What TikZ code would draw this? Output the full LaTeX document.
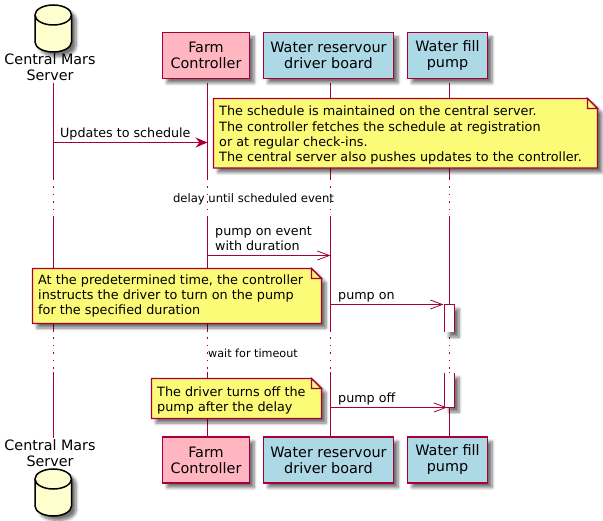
\documentclass[tikz,border=0pt]{standalone}
\usepackage{fontspec}
\setmainfont{DejaVu Sans}
\usetikzlibrary{arrows.meta,shadows.blur}
\definecolor{plum}{HTML}{A80036}
\definecolor{notey}{HTML}{FBFB77}
\definecolor{dbfill}{HTML}{FEFECE}
\definecolor{pinkbox}{HTML}{FFB6C1}
\definecolor{bluebox}{HTML}{ADD8E6}
\tikzset{
  softshadow/.style={blur shadow={shadow xshift=4.5pt,shadow yshift=-4.5pt,shadow blur steps=6,shadow blur radius=3pt,shadow opacity=55}},
  lifeline/.style={draw=plum,line width=1.1pt},
  lifedots/.style={draw=plum,line width=1.1pt,dash pattern=on 1.5pt off 6pt},
  partbox/.style={draw=plum,line width=1.5pt,minimum height=46pt,inner sep=0pt,align=center,softshadow,
     font=\fontsize{14.4}{16}\selectfont},
  actortext/.style={inner sep=0pt,align=center,font=\fontsize{14.3}{16}\selectfont},
  noteshape/.style={draw=plum,fill=notey,line width=1.1pt,line join=miter,softshadow},
  foldshape/.style={draw=plum,fill=notey,line width=1.1pt},
  notetext/.style={inner sep=0pt,anchor=north west,align=left,font=\fontsize{12.8}{15.2}\selectfont},
  msgtext/.style={inner sep=0pt,anchor=base west,align=left,font=\fontsize{12.7}{14.5}\selectfont},
  delaytext/.style={inner sep=0pt,anchor=base},
  filledmsg/.style={draw=plum,line width=1.1pt,-{Stealth[length=12pt,width=10pt,inset=4pt,fill=plum]}},
  openmsg/.style={draw=plum,line width=1.1pt,-{Straight Barb[length=12pt,width=9pt,line width=0.8pt]}},
  dbshape/.style={draw=black,fill=dbfill,line width=1.5pt,softshadow},
  actbar/.style={fill=white,softshadow},
}
\begin{document}
\begin{tikzpicture}[x=1pt,y=-1pt]
\useasboundingbox (0,0) rectangle (603,521);
% lifeline anchors: a..d, points 0..6
\foreach \n/\x in {a/53.5,b/207.5,c/330.5,d/449.5}{
  \coordinate (\n0) at (\x,83);
  \coordinate (\n1) at (\x,179);
  \coordinate (\n2) at (\x,218);
  \coordinate (\n3) at (\x,332.5);
  \coordinate (\n4) at (\x,372.5);
  \coordinate (\n5) at (\x,438);
  \draw[lifeline] (\n0) -- (\n1);
  \draw[lifedots] (\n1) -- (\n2);
  \draw[lifeline] (\n2) -- (\n3);
  \draw[lifedots] (\n3) ++(0,5) -- (\n4);
  \draw[lifeline] (\n4) -- (\n5);
}
% activation bars
\coordinate (p1) at (444.5,304.5);
\coordinate (p2) at (454.5,304.5);
\coordinate (p3) at (454.5,332.5);
\coordinate (p4) at (444.5,332.5);
\fill[actbar] (p1) rectangle (p3);
\draw[lifeline] (p4) -- (p1) -- (p2) -- (p3);
\coordinate (q1) at (444.5,373);
\coordinate (q2) at (454.5,373);
\coordinate (q3) at (454.5,407.5);
\coordinate (q4) at (444.5,407.5);
\fill[actbar] (q1) rectangle (q3);
\draw[lifeline] (q1) -- (q4) -- (q3) -- (q2);
% top participants
\path[dbshape] (35,15) arc[start angle=180,end angle=360,x radius=18.25,y radius=10]
  -- (71.5,42) arc[start angle=0,end angle=180,x radius=18.25,y radius=10] -- cycle;
\draw[draw=black,line width=1.5pt] (35,15) arc[start angle=180,end angle=0,x radius=18.25,y radius=10];
\node[actortext] (srvT) at (50,67) {Central Mars\\Server};
\node[partbox,fill=pinkbox,minimum width=87pt] (farmT) at (206,55.5) {Farm\\Controller};
\node[partbox,fill=bluebox,minimum width=130pt] (resT) at (328.5,55.5) {Water reservour\\driver board};
\node[partbox,fill=bluebox,minimum width=80pt] (pumpT) at (447.5,55.5) {Water fill\\pump};
% bottom participants
\node[partbox,fill=pinkbox,minimum width=87pt] (farmB) at (206,460) {Farm\\Controller};
\node[partbox,fill=bluebox,minimum width=130pt] (resB) at (328.5,460) {Water reservour\\driver board};
\node[partbox,fill=bluebox,minimum width=80pt] (pumpB) at (447.5,460) {Water fill\\pump};
\node[actortext] (srvB) at (50,453) {Central Mars\\Server};
\path[dbshape] (35,479) arc[start angle=180,end angle=360,x radius=18.25,y radius=10]
  -- (71.5,506) arc[start angle=0,end angle=180,x radius=18.25,y radius=10] -- cycle;
\draw[draw=black,line width=1.5pt] (35,479) arc[start angle=180,end angle=0,x radius=18.25,y radius=10];
% note 1
\path[noteshape] (213.5,98.5) -- (587.5,98.5) -- (597.5,108.5) -- (597.5,168) -- (213.5,168) -- cycle;
\path[foldshape] (587.5,98.5) -- (587.5,108.5) -- (597.5,108.5) -- cycle;
\node[notetext] (note1) at (219,106) {The schedule is maintained on the central server.\\The controller fetches the schedule at registration\\or at regular check-ins.\\The central server also pushes updates to the controller.};
% note 2
\path[noteshape] (32.5,268.5) -- (311.5,268.5) -- (321.5,278.5) -- (321.5,323.5) -- (32.5,323.5) -- cycle;
\path[foldshape] (311.5,268.5) -- (311.5,278.5) -- (321.5,278.5) -- cycle;
\node[notetext] (note2) at (38,274.5) {At the predetermined time, the controller\\instructs the driver to turn on the pump\\for the specified duration};
% note 3
\path[noteshape] (151.5,378.5) -- (311.5,378.5) -- (321.5,388.5) -- (321.5,418.5) -- (151.5,418.5) -- cycle;
\path[foldshape] (311.5,378.5) -- (311.5,388.5) -- (321.5,388.5) -- cycle;
\node[notetext] (note3) at (157,386.5) {The driver turns off the\\pump after the delay};
% delays
\node[delaytext,font=\fontsize{11.6}{13}\selectfont] (delay1) at (253.5,203) {delay until scheduled event};
\node[delaytext,font=\fontsize{11.2}{13}\selectfont] (delay2) at (253,357.5) {wait for timeout};
% messages
\coordinate (m1a) at (53.5,142.5);
\coordinate (m1b) at (207.5,142.5);
\draw[filledmsg] (m1a) -- (m1b);
\node[msgtext] (l1) at (60,137.5) {Updates to schedule};
\coordinate (m2a) at (207.5,255.5);
\coordinate (m2b) at (330.5,255.5);
\draw[openmsg] (m2a) -- (m2b);
\node[msgtext,anchor=north west] (l2) at (215,226.5) {pump on event\\with duration};
\coordinate (m3a) at (330.5,304.5);
\coordinate (m3b) at (443.5,304.5);
\draw[openmsg] (m3a) -- (m3b);
\node[msgtext] (l3) at (338,299.5) {pump on};
\coordinate (m4a) at (330.5,407.5);
\coordinate (m4b) at (447,407.5);
\draw[openmsg] (m4a) -- (m4b);
\node[msgtext] (l4) at (338,402.5) {pump off};
\end{tikzpicture}
\end{document}
